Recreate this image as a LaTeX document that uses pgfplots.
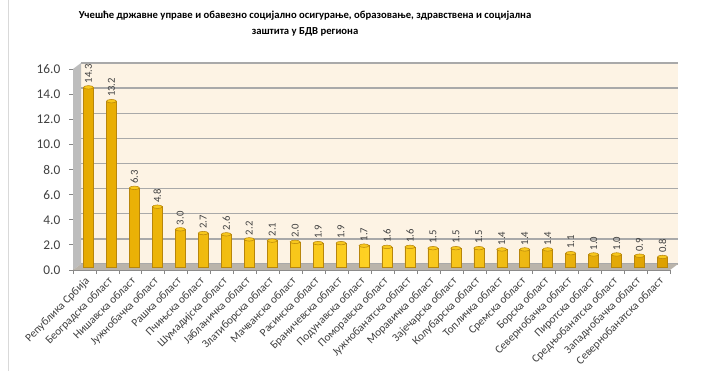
\documentclass[border=0pt]{standalone}
\usepackage{pgfplots}
\usepackage{pgfplotstable}
\pgfplotsset{compat=1.18}
\usepackage{fontspec}
\setmainfont{Carlito}

\definecolor{wall}{HTML}{FDF3E4}
\definecolor{gridc}{HTML}{A9A9A9}
\definecolor{floorc}{HTML}{BAB4AB}
\definecolor{sidec}{HTML}{BDBDBD}
\definecolor{goldL}{HTML}{E6AA00}
\definecolor{goldM}{HTML}{FFD224}
\definecolor{goldR}{HTML}{DDA000}
\definecolor{goldE}{HTML}{B8860B}
\definecolor{txt}{HTML}{404040}
\definecolor{axc}{HTML}{868686}

% share by region
\pgfplotstableread{
x val
0 14.3
1 13.2
2 6.3
3 4.8
4 3.0
5 2.7
6 2.6
7 2.2
8 2.1
9 2.0
10 1.9
11 1.9
12 1.7
13 1.6
14 1.6
15 1.5
16 1.5
17 1.5
18 1.4
19 1.4
20 1.4
21 1.1
22 1.0
23 1.0
24 0.9
25 0.8
}\datatable

\begin{document}
\begin{tikzpicture}
\draw[black!15, line width=0.75pt] (6.5pt,0) -- (6.5pt,278.25pt);
\node[font=\bfseries\fontsize{8}{10}\selectfont, inner sep=0pt] at (228.75pt,266.25pt)
  {Учешће државне управе и обавезно социјално осигурање, образовање, здравствена и социјална};
\node[font=\bfseries\fontsize{8}{10}\selectfont, inner sep=0pt] at (228.75pt,254.25pt)
  {заштита у БДВ региона};

\begin{axis}[
  at={(60.75pt,80.25pt)}, anchor=south west,
  scale only axis, width=447.75pt, height=150.75pt,
  xmin=-0.5, xmax=25.5, ymin=0, ymax=16,
  clip=false,
  axis lines*=left,
  axis line style={draw=axc, line width=0.6pt},
  tick align=outside,
  major tick length=3pt, minor tick length=3pt,
  every tick/.style={draw=axc, line width=0.6pt},
  xtick={0,...,25},
  major x tick style={draw=none},
  minor xtick={-0.5,0.5,...,25.5},
  xticklabels={Република Србија, Београдска област, Нишавска област, Јужнобачка област,
    Рашка област, Пчињска област, Шумадијска област, Јабланичка област,
    Златиборска област, Мачванска област, Расинска област, Браничевска област,
    Подунавска област, Поморавска област, Јужнобанатска област, Моравичка област,
    Зајечарска област, Колубарска област, Топличка област, Сремска област,
    Борска област, Севернобачка област, Пиротска област, Средњобанатска област,
    Западнобачка област, Севернобанатска област},
  xticklabel style={rotate=45, anchor=north east, font=\fontsize{8.5}{9}\selectfont, text=txt, inner sep=1pt},
  ytick={0,2,...,16},
  yticklabel style={font=\fontsize{10}{12}\selectfont, text=txt, xshift=-3pt,
    /pgf/number format/fixed, /pgf/number format/fixed zerofill,
    /pgf/number format/precision=1, /pgf/number format/assume math mode=true},
  ymajorgrids,
  major grid style={draw=gridc, line width=1.1pt, shift={(6pt,4.5pt)}},
  axis background/.style={fill=wall, shift={(6pt,4.5pt)}},
]
\fill[sidec] (rel axis cs:0,0) -- (rel axis cs:0,1) -- ([shift={(6pt,4.5pt)}]rel axis cs:0,1) -- ([shift={(6pt,4.5pt)}]rel axis cs:0,0) -- cycle;
\fill[floorc] (rel axis cs:0,0) -- (rel axis cs:1,0) -- ([shift={(6pt,4.5pt)}]rel axis cs:1,0) -- ([shift={(6pt,4.5pt)}]rel axis cs:0,0) -- cycle;

\addplot[ybar, bar width=7.5pt, xshift=3pt, yshift=2.25pt, draw=goldE, line width=0.4pt,
  left color=goldL, right color=goldR, middle color=goldM]
  table[x=x, y=val]{\datatable};

\addplot[only marks, mark=*, mark size=3.75pt, xshift=3pt, yshift=2.25pt,
  mark options={yscale=0.35, fill=goldM!80!goldR, draw=goldE, line width=0.4pt},
  nodes near coords,
  nodes near coords style={font=\fontsize{8}{9}\selectfont, text=txt, rotate=90, anchor=west, inner sep=3pt,
    /pgf/number format/fixed, /pgf/number format/fixed zerofill,
    /pgf/number format/precision=1, /pgf/number format/assume math mode=true}]
  table[x=x, y=val]{\datatable};
\end{axis}
\pgfresetboundingbox
\path[use as bounding box] (0,0) rectangle (526.5pt,278.25pt);
\end{tikzpicture}
\end{document}
